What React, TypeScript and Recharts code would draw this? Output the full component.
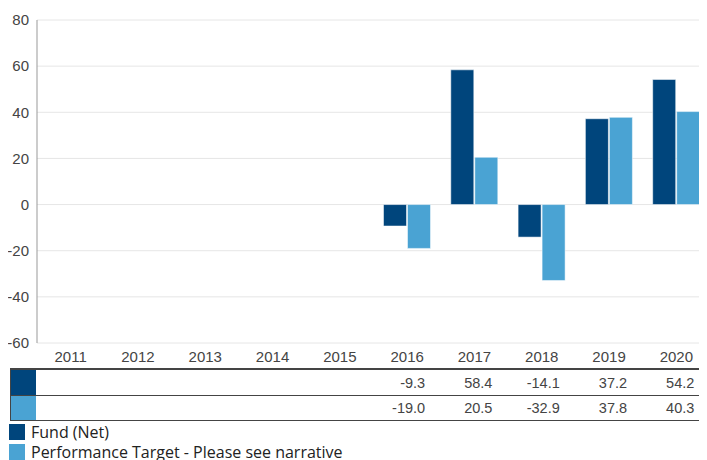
import { BarChart, Bar, XAxis, YAxis, CartesianGrid } from "recharts";

const years = ["2011", "2012", "2013", "2014", "2015", "2016", "2017", "2018", "2019", "2020"];
const fundNet = [null, null, null, null, null, -9.3, 58.4, -14.1, 37.2, 54.2];
const perfTarget = [null, null, null, null, null, -19.0, 20.5, -32.9, 37.8, 40.3];
const yTicks = [-60, -40, -20, 0, 20, 40, 60, 80];
const seriesNames = ["Fund (Net)", "Performance Target - Please see narrative"];
const seriesColors = ["#00457c", "#4aa3d3"];

const data = years.map((year, i) => ({ year, fund: fundNet[i], target: perfTarget[i] }));

const tickFont = "'Liberation Sans', Arial, sans-serif";

// year label plus the two table cells under each category
const YearTick = (props: any) => {
  const { x, payload, index } = props;
  const rows = [fundNet[index], perfTarget[index]];
  return (
    <g>
      <text x={x} y={362} textAnchor="middle" fontSize={15} fill="#444" fontFamily={tickFont}>
        {payload.value}
      </text>
      {rows.map((v, r) =>
        v == null ? null : (
          <text
            key={r}
            x={x + 18}
            y={388 + r * 25}
            textAnchor="end"
            fontSize={14.5}
            fill="#444"
            fontFamily={tickFont}
          >
            {v.toFixed(1)}
          </text>
        )
      )}
    </g>
  );
};

const App = () => {
  return (
    <div
      style={{
        position: "relative",
        width: 707,
        height: 460,
        margin: "-8px 0 0 -8px",
        overflow: "hidden",
        background: "#fff",
      }}
    >
      <BarChart
        width={710}
        height={460}
        data={data}
        margin={{ top: 20, right: 0, bottom: 0, left: 0 }}
        barCategoryGap={10}
        barGap={1}
      >
        <CartesianGrid vertical={false} stroke="#e6e6e6" />
        <YAxis
          width={37}
          domain={[-60, 80]}
          ticks={yTicks}
          tickLine={false}
          axisLine={{ stroke: "#999" }}
          tick={{ fill: "#444", fontSize: 15, fontFamily: tickFont }}
        />
        <XAxis dataKey="year" height={117} tickLine={false} axisLine={false} tick={<YearTick />} interval={0} />
        <Bar dataKey="fund" fill={seriesColors[0]} stroke="#ffffff" strokeOpacity={0.5} isAnimationActive={false} />
        <Bar dataKey="target" fill={seriesColors[1]} stroke="#ffffff" strokeOpacity={0.5} isAnimationActive={false} />
      </BarChart>

      {/* table rules and colour keys */}
      <div style={{ position: "absolute", left: 10, top: 368, width: 697, height: 2, background: "#444" }} />
      <div style={{ position: "absolute", left: 10, top: 395, width: 697, height: 1, background: "#444" }} />
      <div style={{ position: "absolute", left: 10, top: 420, width: 697, height: 1, background: "#444" }} />
      <div style={{ position: "absolute", left: 10, top: 368, width: 1, height: 53, background: "#444" }} />
      <div style={{ position: "absolute", left: 11, top: 370, width: 25, height: 25, background: seriesColors[0] }} />
      <div style={{ position: "absolute", left: 11, top: 396, width: 25, height: 24, background: seriesColors[1] }} />

      {/* legend */}
      {seriesNames.map((name, i) => (
        <div
          key={name}
          style={{
            position: "absolute",
            left: 9,
            top: 423 + i * 20,
            height: 18,
            lineHeight: "18px",
            display: "flex",
            alignItems: "center",
            fontFamily: "'Open Sans', sans-serif",
            fontSize: 16,
            color: "#222",
            whiteSpace: "nowrap",
          }}
        >
          <span style={{ width: 16, height: 16, background: seriesColors[i], marginRight: 6, display: "inline-block" }} />
          {name}
        </div>
      ))}
    </div>
  );
};

export default App;
